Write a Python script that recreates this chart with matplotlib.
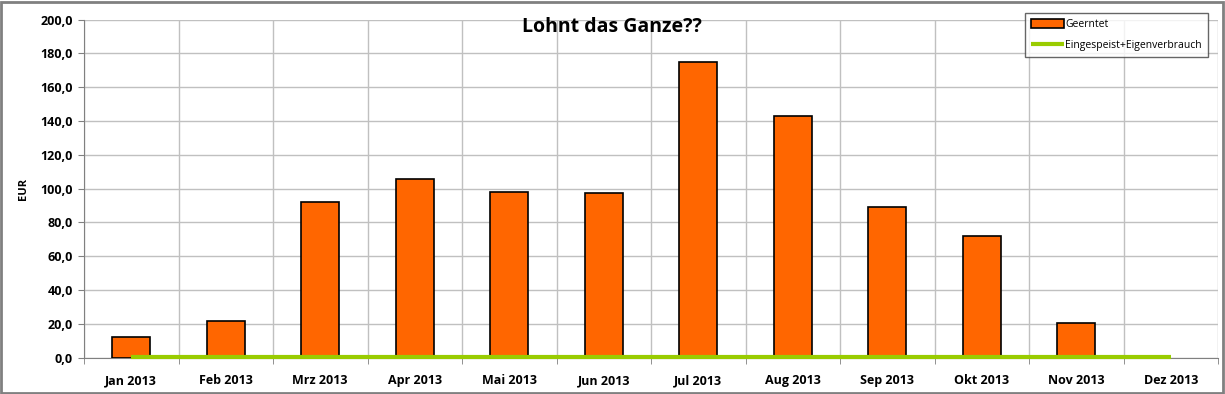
import numpy as np
import matplotlib
matplotlib.use('Agg')
import matplotlib.pyplot as plt
from matplotlib.ticker import FixedLocator, FuncFormatter

months = ['Jan 2013', 'Feb 2013', 'Mrz 2013', 'Apr 2013', 'Mai 2013', 'Jun 2013',
          'Jul 2013', 'Aug 2013', 'Sep 2013', 'Okt 2013', 'Nov 2013', 'Dez 2013']
geerntet = [12.4, 21.9, 92.1, 105.6, 98.0, 97.4, 174.8, 142.8, 89.2, 72.2, 20.5, 0.0]
eingespeist = [0.0, 0.0, 0.0, 0.0, 0.0, 0.0, 0.0, 0.0, 0.0, 0.0, 0.0, 0.0]

plt.rcParams['font.family'] = ['Open Sans', 'DejaVu Sans']

fig = plt.figure(figsize=(12.25, 3.94), dpi=100)
W, H = 1225, 394
ax = fig.add_axes([84/W, 1-357.7/H, (1218-84)/W, (357.7-19.6)/H])

x = np.arange(len(months))
edges = ['black' if v > 0 else 'none' for v in geerntet]
bars = ax.bar(x, geerntet, width=0.4, color='#FF6600', edgecolor=edges, linewidth=1.2,
              label='Geerntet', zorder=3)
line, = ax.plot(x, [v + 0.6 for v in eingespeist], color='#99CC00', linewidth=3,
                label='Eingespeist+Eigenverbrauch', zorder=4, solid_capstyle='butt',
                clip_on=False)

ax.set_xlim(-0.5, len(months) - 0.5)
ax.set_ylim(0, 200)
ax.set_yticks(np.arange(0, 201, 20))
ax.yaxis.set_major_formatter(FuncFormatter(lambda v, p: ('%.1f' % v).replace('.', ',')))
ax.set_xticks(x)
ax.set_xticklabels(months)
ax.xaxis.set_minor_locator(FixedLocator(np.arange(-0.5, len(months), 1.0)))
ax.tick_params(axis='x', which='major', length=0, pad=12, labelsize=9)
ax.tick_params(axis='x', which='minor', length=4, color='#808080', direction='out')
ax.tick_params(axis='y', length=4, color='#808080', labelsize=9, pad=4)
for lab in ax.get_xticklabels() + ax.get_yticklabels():
    lab.set_fontweight('bold')

ax.grid(axis='y', which='major', color='#C0C0C0', linewidth=1, zorder=0)
ax.grid(axis='x', which='minor', color='#C0C0C0', linewidth=1, zorder=0)
ax.set_axisbelow(True)
for side in ['top', 'right']:
    ax.spines[side].set_visible(False)
ax.spines['left'].set_color('#808080')
ax.spines['bottom'].set_color('#808080')

ax.set_ylabel('EUR', fontsize=8, fontweight='bold', labelpad=8)

fig.text(612/W, 1-27/H, 'Lohnt das Ganze??', fontsize=14, fontweight='bold',
         ha='center', va='center')

leg = ax.legend([bars, line], ['Geerntet', 'Eingespeist+Eigenverbrauch'],
                loc='upper right', bbox_to_anchor=((1208-84)/(1218-84), 1 + (19.6-13)/338),
                borderaxespad=0, fontsize=7.5, frameon=True, fancybox=False,
                edgecolor='#404040', handlelength=3.2, handleheight=0.9, borderpad=0.6,
                labelspacing=0.9, handletextpad=0.1)
leg.get_frame().set_linewidth(1.0)

fig.patches.append(plt.Rectangle((1/W, 1/H), 1-3/W, 1-3/H, transform=fig.transFigure,
                                 fill=False, edgecolor='#808080', linewidth=2))

fig.savefig('out.png', dpi=100)
plt.close(fig)
